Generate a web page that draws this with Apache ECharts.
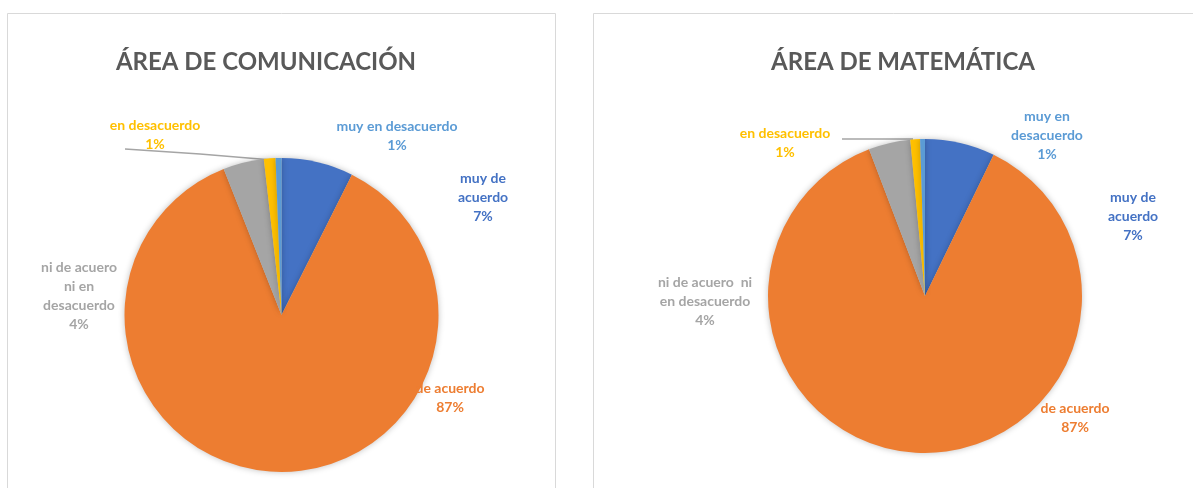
<!DOCTYPE html>
<html>
<head>
<meta charset="utf-8">
<script src="https://cdn.jsdelivr.net/npm/echarts@6/dist/echarts.min.js"></script>
<style>
  html, body { margin: 0; padding: 0; background: #fff; }
  #chart { width: 1193px; height: 488px; }
</style>
</head>
<body>
<div id="chart"></div>
<script>
// categorias (orden de las porciones, desde las 12 en sentido horario)
var categories = ['muy de acuerdo', 'de acuerdo', 'ni de acuero ni en desacuerdo', 'en desacuerdo', 'muy en desacuerdo'];
var colors = ['#4472C4', '#ED7D31', '#A5A5A5', '#FFC000', '#5B9BD5'];

// porcentajes
var comunicacionValues = [7.4, 86.6, 4.2, 1.2, 0.6];
var matematicaValues = [7.2, 87.0, 4.3, 1.0, 0.5];

// texto de las etiquetas, con los saltos de linea de cada grafico
var comunicacionLabels = ['muy de\nacuerdo', 'de acuerdo', 'ni de acuero\nni en\ndesacuerdo', 'en desacuerdo', 'muy en desacuerdo'];
var matematicaLabels = ['muy de\nacuerdo', 'de acuerdo', 'ni de acuero  ni\nen desacuerdo', 'en desacuerdo', 'muy en\ndesacuerdo'];

// posiciones de etiquetas (centro del texto)
var comunicacionLabelPos = [[483, 197], [450, 398], [79, 296], [155, 135], [397, 136]];
var matematicaLabelPos = [[1133, 216], [1075, 418], [705, 301], [785, 143], [1047, 135]];
var comunicacionLine = [[125, 149], [200, 154], [272, 160]];
var matematicaLine = [[842, 139], [880, 139], [913, 139]];

var FONT = 'Lato';

function buildData(values, labels) {
    return values.map(function (v, i) {
        return {
            value: v,
            name: categories[i],
            itemStyle: { color: colors[i] },
            label: { color: colors[i] },
            labelLine: { show: i === 3 },
            text: labels[i]
        };
    });
}

function pieSeries(center, values, labels, pos, line) {
    var data = buildData(values, labels);
    return {
        type: 'pie',
        center: center,
        radius: 157,
        startAngle: 90,
        clockwise: true,
        avoidLabelOverlap: false,
        data: data,
        itemStyle: {
            borderWidth: 0,
            shadowBlur: 6,
            shadowColor: 'rgba(0,0,0,0.25)'
        },
        label: {
            show: true,
            position: 'outside',
            fontFamily: FONT,
            fontWeight: 'bold',
            fontSize: 14,
            lineHeight: 19,
            align: 'center',
            formatter: function (p) {
                return data[p.dataIndex].text + '\n' + Math.round(p.percent) + '%';
            }
        },
        labelLine: {
            lineStyle: { color: '#A5A5A5', width: 1.5 }
        },
        labelLayout: function (params) {
            var p = pos[params.dataIndex];
            var res = { x: p[0], y: p[1], align: 'center', verticalAlign: 'middle' };
            if (params.dataIndex === 3) {
                res.labelLinePoints = line;
            }
            return res;
        },
        emphasis: { disabled: true }
    };
}

var chart = echarts.init(document.getElementById('chart'));

chart.setOption({
    animation: false,
    backgroundColor: '#fff',
    graphic: [
        { type: 'rect', shape: { x: 7.5, y: 13.5, width: 548, height: 490 }, style: { fill: 'none', stroke: '#D9D9D9', lineWidth: 1 } },
        { type: 'rect', shape: { x: 593.5, y: 13.5, width: 620, height: 490 }, style: { fill: 'none', stroke: '#D9D9D9', lineWidth: 1 } }
    ],
    title: [
        {
            text: 'ÁREA DE COMUNICACIÓN',
            left: 261, top: 57,
            textAlign: 'center', textVerticalAlign: 'middle',
            textStyle: { fontFamily: FONT, fontWeight: 'bold', fontSize: 24, color: '#595959' }
        },
        {
            text: 'ÁREA DE MATEMÁTICA',
            left: 898, top: 57,
            textAlign: 'center', textVerticalAlign: 'middle',
            textStyle: { fontFamily: FONT, fontWeight: 'bold', fontSize: 24, color: '#595959' }
        }
    ],
    series: [
        pieSeries([281.5, 315], comunicacionValues, comunicacionLabels, comunicacionLabelPos, comunicacionLine),
        pieSeries([925, 296], matematicaValues, matematicaLabels, matematicaLabelPos, matematicaLine)
    ]
});
</script>
</body>
</html>
